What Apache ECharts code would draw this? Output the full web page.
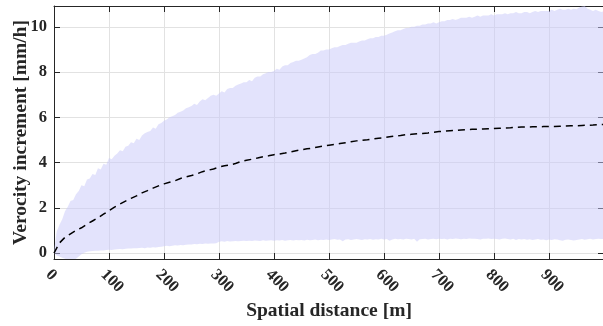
<!DOCTYPE html>
<html><head><meta charset="utf-8">
<script src="https://cdn.jsdelivr.net/npm/echarts@6/dist/echarts.min.js"></script>
<style>html,body{margin:0;padding:0;background:#fff}#c{width:603px;height:326px}</style>
</head><body><div id="c"></div>
<script>
// x positions (m): band sampled every 5 m, mean every 10 m
const bandStep = 5;
const meanStep = 10;
const xTicks = [0,100,200,300,400,500,600,700,800,900];
const yTicks = [0,2,4,6,8,10];

const upperBand = [
0.1,0.95,1.25,1.5,1.85,2.05,2.3,2.35,2.6,2.75,
3.0,2.95,3.25,3.3,3.5,3.45,3.75,3.7,3.95,3.9,
4.2,4.15,4.3,4.4,4.55,4.5,4.7,4.75,4.9,4.85,
5.05,5.0,5.2,5.3,5.35,5.4,5.55,5.5,5.7,5.75,
5.85,5.9,6.0,6.05,6.1,6.2,6.25,6.3,6.4,6.45,
6.5,6.6,6.55,6.7,6.8,6.75,6.85,6.95,7.0,6.95,
7.05,7.15,7.1,7.25,7.3,7.3,7.4,7.45,7.5,7.55,
7.55,7.65,7.6,7.75,7.8,7.8,7.9,7.95,8.0,8.0,
8.05,8.15,8.1,8.25,8.3,8.3,8.4,8.45,8.5,8.5,
8.55,8.6,8.65,8.75,8.8,8.8,8.85,8.95,8.95,9.0,
9.0,9.05,9.1,9.1,9.15,9.2,9.2,9.25,9.3,9.3,
9.3,9.35,9.4,9.4,9.45,9.5,9.5,9.55,9.55,9.6,
9.6,9.65,9.7,9.75,9.8,9.85,9.85,9.9,9.95,9.95,
10.0,10.0,10.05,10.05,10.1,10.1,10.15,10.15,10.2,10.15,
10.2,10.25,10.25,10.3,10.3,10.35,10.3,10.35,10.4,10.4,
10.4,10.45,10.4,10.45,10.5,10.45,10.5,10.5,10.5,10.55,
10.5,10.55,10.55,10.55,10.6,10.55,10.6,10.6,10.65,10.6,
10.6,10.65,10.65,10.6,10.65,10.7,10.65,10.7,10.7,10.7,
10.7,10.75,10.7,10.75,10.8,10.75,10.75,10.8,10.75,10.8,
10.78,10.85,10.9,10.92,10.8,10.75,10.7,10.75,10.7,10.65,
10.7];

const lowerBand = [
0.0,-0.1,-0.15,-0.2,-0.25,-0.3,-0.3,-0.3,-0.25,-0.15,
-0.05,0.02,0.06,0.08,0.09,0.1,0.1,0.12,0.12,0.14,
0.15,0.14,0.16,0.17,0.18,0.17,0.19,0.2,0.2,0.22,
0.21,0.23,0.24,0.22,0.25,0.24,0.26,0.25,0.27,0.28,
0.3,0.32,0.3,0.33,0.35,0.34,0.36,0.35,0.37,0.38,
0.38,0.4,0.39,0.41,0.4,0.42,0.41,0.43,0.42,0.44,
0.5,0.52,0.5,0.53,0.51,0.52,0.54,0.52,0.53,0.55,
0.54,0.55,0.53,0.56,0.55,0.54,0.57,0.55,0.56,0.57,
0.55,0.57,0.56,0.58,0.55,0.57,0.58,0.56,0.58,0.57,
0.58,0.56,0.59,0.57,0.58,0.6,0.57,0.59,0.58,0.6,
0.58,0.6,0.62,0.59,0.6,0.52,0.6,0.61,0.58,0.6,
0.62,0.6,0.58,0.61,0.6,0.62,0.59,0.61,0.6,0.63,
0.6,0.62,0.55,0.6,0.63,0.61,0.62,0.6,0.64,0.62,
0.6,0.63,0.5,0.61,0.62,0.64,0.6,0.62,0.63,0.61,
0.64,0.62,0.63,0.6,0.64,0.62,0.65,0.63,0.61,0.64,
0.62,0.65,0.63,0.64,0.62,0.6,0.64,0.63,0.65,0.62,
0.64,0.62,0.6,0.63,0.65,0.62,0.6,0.63,0.58,0.62,
0.6,0.62,0.59,0.61,0.58,0.6,0.62,0.59,0.6,0.57,
0.6,0.58,0.61,0.6,0.57,0.55,0.59,0.6,0.58,0.56,
0.58,0.6,0.62,0.59,0.61,0.63,0.6,0.62,0.64,0.62,
0.63];

const meanCurve = [
0.0,0.45,0.7,0.85,1.0,1.12,1.28,1.42,1.56,1.72,
1.88,2.03,2.17,2.3,2.42,2.53,2.66,2.76,2.87,2.97,
3.06,3.13,3.2,3.3,3.37,3.43,3.5,3.6,3.66,3.72,
3.8,3.86,3.9,3.96,4.05,4.1,4.15,4.2,4.26,4.3,
4.35,4.38,4.42,4.47,4.52,4.57,4.61,4.64,4.69,4.73,
4.77,4.8,4.84,4.88,4.92,4.96,4.98,5.01,5.05,5.08,
5.1,5.14,5.18,5.2,5.23,5.25,5.27,5.29,5.31,5.34,
5.37,5.39,5.41,5.42,5.44,5.46,5.47,5.48,5.49,5.5,
5.51,5.52,5.53,5.54,5.56,5.57,5.57,5.58,5.58,5.59,
5.6,5.6,5.61,5.62,5.63,5.63,5.64,5.65,5.66,5.68,
5.69];

const bandPts = upperBand.map((v,i)=>[i*bandStep, lowerBand[i], v]);
const meanPts = meanCurve.map((v,i)=>[i*meanStep, v]);

const FONT = 'Liberation Serif';
const INK = '#262626';
const xBase = {type:'value', min:0, max:1000,
  axisLine:{show:true, onZero:false, lineStyle:{color:INK, width:1}},
  axisTick:{show:true, inside:true, length:6, customValues:xTicks, lineStyle:{color:INK}},
};
const yBase = {type:'value', min:-0.26, max:10.92,
  axisLine:{show:true, onZero:false, lineStyle:{color:INK, width:1}},
  axisTick:{show:true, inside:true, length:6, customValues:yTicks, lineStyle:{color:INK}},
};

function renderBand(params, api){
  if (params.dataIndex !== 0) return null;
  const pts = [];
  for (let i = 0; i < bandPts.length; i++) pts.push(api.coord([bandPts[i][0], bandPts[i][2]]));
  for (let i = bandPts.length - 1; i >= 0; i--) pts.push(api.coord([bandPts[i][0], bandPts[i][1]]));
  const cs = params.coordSys;
  return {type:'polygon', shape:{points:pts},
    style:{fill:'rgba(200,200,250,0.5)', stroke:null},
    clipPath:{type:'rect', shape:{x:cs.x, y:cs.y, width:cs.width, height:cs.height}}};
}

const chart = echarts.init(document.getElementById('c'), null, {renderer:'canvas'});
chart.setOption({
  animation:false,
  grid: {left:54, top:6, width:550, height:253, containLabel:false, outerBoundsMode:'none'},
  xAxis: [
    Object.assign({}, xBase, {position:'bottom',
      name:'Spatial distance [m]', nameLocation:'middle', nameGap:42, nameMoveOverlap:false,
      nameTextStyle:{fontFamily:FONT, fontWeight:'bold', fontSize:19.5, color:INK},
      axisLabel:{show:true, customValues:xTicks, rotate:-45, margin:19, padding:[0,0,0,-8],
        fontFamily:FONT, fontWeight:'bold', fontSize:16.5, color:INK},
      splitLine:{show:true, lineStyle:{color:'#e2e2e2', width:1}}}),
    Object.assign({}, xBase, {position:'top', axisLabel:{show:false}, splitLine:{show:false}})
  ],
  yAxis: [
    Object.assign({}, yBase, {position:'left',
      name:'Verocity increment [mm/h]', nameLocation:'middle', nameGap:23, nameMoveOverlap:false,
      nameTextStyle:{fontFamily:FONT, fontWeight:'bold', fontSize:19.5, color:INK},
      axisLabel:{show:true, customValues:yTicks, margin:7,
        fontFamily:FONT, fontWeight:'bold', fontSize:16.5, color:INK},
      splitLine:{show:true, lineStyle:{color:'#e2e2e2', width:1}}}),
    Object.assign({}, yBase, {position:'right', axisLabel:{show:false}, splitLine:{show:false}})
  ],
  series: [
    {type:'custom', data:bandPts, renderItem:renderBand, encode:{x:0, y:[1,2]}, silent:true, z:1},
    {type:'line', data:meanPts, symbol:'none', smooth:false,
      lineStyle:{color:'#000', width:1.5, type:[7,5]}, z:5}
  ]
});
</script></body></html>
